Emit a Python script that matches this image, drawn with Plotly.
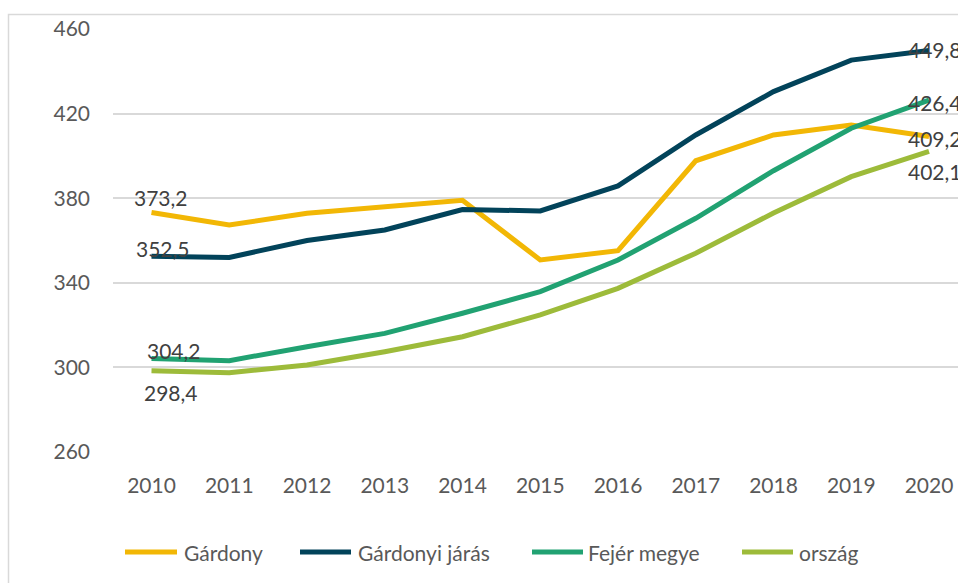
import plotly.graph_objects as go

# Years on the category axis
years = [2010, 2011, 2012, 2013, 2014, 2015, 2016, 2017, 2018, 2019, 2020]

# Series values
gardony = [373.2, 367.3, 372.9, 376.0, 379.0, 350.8, 355.2, 397.7, 409.9, 414.6, 409.2]
gardonyi_jaras = [352.5, 352.0, 360.0, 365.0, 374.6, 374.0, 385.8, 409.9, 430.4, 445.3, 449.8]
fejer_megye = [304.2, 303.2, 309.8, 316.1, 325.6, 335.8, 350.8, 370.5, 393.0, 413.1, 426.4]
orszag = [298.4, 297.5, 301.1, 307.4, 314.5, 324.8, 337.4, 354.0, 373.0, 390.2, 402.1]

names = ["Gárdony", "Gárdonyi járás", "Fejér megye", "ország"]
series = [gardony, gardonyi_jaras, fejer_megye, orszag]
colors = ["#F2B705", "#02435A", "#21A272", "#9DBB3A"]

y_ticks = [260, 300, 340, 380, 420, 460]

# Figure geometry (pixels)
W, H = 958, 583
ML, MR, MT, MB = 113, 0, 29, 131
PW, PH = W - ML - MR, H - MT - MB

FONT = "Lato"
FS = 21
TICK_COLOR = "#595959"
LABEL_COLOR = "#404040"
GRID = "#D9D9D9"

fig = go.Figure()
for name, vals, col in zip(names, series, colors):
    fig.add_trace(go.Scatter(
        x=years, y=vals, name=name, mode="lines",
        line=dict(color=col, width=5),
        showlegend=False, hoverinfo="x+y",
    ))


def fmt(v):
    return f"{v:.1f}".replace(".", ",")


# Data labels at first and last year: (series index, point index, xshift, yshift)
label_spec = [
    (0, 0, 10, 15), (1, 0, 12, 8), (2, 0, 23, 8), (3, 0, 20, -22),
    (1, -1, 6, 1), (2, -1, 6, -2), (0, -1, 6, -2), (3, -1, 6, -20),
]
annotations = []
for si, pi, dx, dy in label_spec:
    annotations.append(dict(
        x=years[pi], y=series[si][pi], xref="x", yref="y",
        text=fmt(series[si][pi]), showarrow=False,
        xshift=dx, yshift=dy, xanchor="center", yanchor="middle",
        font=dict(family=FONT, size=FS, color=LABEL_COLOR),
    ))


def px_x(p):
    return (p - ML) / PW


def px_y(p):
    return (H - MB - p) / PH


# Legend drawn along the bottom: sample line + label for each series
legend_line_x = [(125, 177), (300, 351), (532, 583), (742, 793)]
legend_text_x = [182, 356, 586, 797]
legend_y = 552
shapes = []
for (x0, x1), tx, name, col in zip(legend_line_x, legend_text_x, names, colors):
    shapes.append(dict(
        type="line", xref="paper", yref="paper",
        x0=px_x(x0), x1=px_x(x1), y0=px_y(legend_y), y1=px_y(legend_y),
        line=dict(color=col, width=5),
    ))
    annotations.append(dict(
        x=px_x(tx), y=px_y(legend_y), xref="paper", yref="paper",
        text=name, showarrow=False, xanchor="left", yanchor="middle",
        font=dict(family=FONT, size=FS, color=TICK_COLOR),
    ))

# Outer chart frame
shapes.append(dict(
    type="rect", xref="paper", yref="paper",
    x0=px_x(8.5), x1=px_x(W + 20), y0=px_y(H + 20), y1=px_y(14.5),
    line=dict(color=GRID, width=1.5), fillcolor="rgba(0,0,0,0)", layer="below",
))

fig.update_layout(
    width=W, height=H,
    margin=dict(l=ML, r=MR, t=MT, b=MB, pad=0),
    paper_bgcolor="white", plot_bgcolor="white",
    font=dict(family=FONT, size=FS, color=TICK_COLOR),
    shapes=shapes, annotations=annotations,
    showlegend=False,
)
fig.update_xaxes(
    range=[2009.505, 2020.373], tickmode="array", tickvals=years,
    ticktext=[str(y) for y in years], showgrid=False, zeroline=False,
    showline=False, ticks="", ticklabelstandoff=19,
    tickfont=dict(family=FONT, size=FS, color=TICK_COLOR),
)
fig.update_yaxes(
    range=[260, 460], tickmode="array", tickvals=y_ticks,
    showgrid=True, gridcolor=GRID, gridwidth=1.5, zeroline=False,
    showline=False, ticks="", ticklabelstandoff=22,
    tickfont=dict(family=FONT, size=FS, color=TICK_COLOR),
)

fig.write_html("out.html")
